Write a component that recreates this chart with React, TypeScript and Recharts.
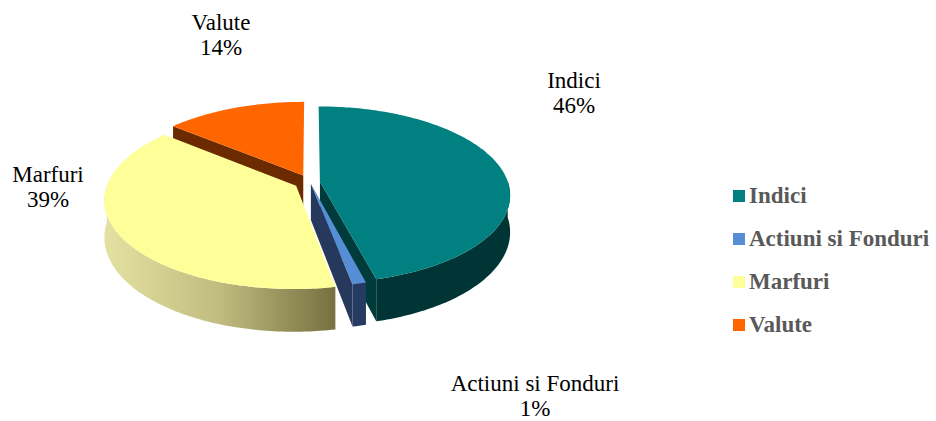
// Exploded 3D pie: portfolio split by asset class
// Recharts lays out the sectors, a custom shape extrudes them into a tilted 3D slice

import React from "react";
import { PieChart, Pie, Legend, Cell } from "recharts";

const categories = ["Indici", "Actiuni si Fonduri", "Marfuri", "Valute"];
const shares = [46, 1, 39, 14];

const topColors = ["#008080", "#558ED5", "#FFFF99", "#FF6600"];
const sideColors = ["#013535", "#253B61", "url(#marfuriSide)", "#6B2A00"];
const wallColors = ["#003B3B", "#26395C", "#8A854F", "#6B2A00"];
const explode = [10, 4, 16, 16];

const SERIF = '"Times New Roman", Times, "Liberation Serif", "DejaVu Serif", serif';

// label anchor (first baseline) relative to pie center
const labelOffset: Array<[number, number]> = [
  [264, -94],
  [225, 209],
  [-262, 0],
  [-89, -152],
];

// start the pie at Valute so the back slices paint first, Marfuri last
const drawOrder = [3, 0, 1, 2];
const total = shares.reduce((a, b) => a + b, 0);
const pieData = drawOrder.map(i => ({ name: categories[i], value: shares[i], idx: i }));
const startAngle = 90 + (360 * shares[3]) / total;

const D = 1250; // perspective distance
const K = 0.46; // tilt (vertical squash)
const DEPTH = 36;
const RAD = Math.PI / 180;

function project(cx: number, cy: number, X: number, Z: number, h: number) {
  const s = D / (D + Z);
  return [cx + X * s, cy - Z * K * s + h * s];
}

function toPath(pts: number[][], close = true) {
  return pts.map((p, i) => `${i ? "L" : "M"}${p[0].toFixed(2)},${p[1].toFixed(2)}`).join(" ") + (close ? " Z" : "");
}

function Slice3D(props: any) {
  const { cx, cy, outerRadius: r, startAngle: a0, endAngle: a1 } = props;
  const idx = props.payload?.idx ?? props.idx;
  const mid = ((a0 + a1) / 2) * RAD;
  const ox = explode[idx] * Math.cos(mid);
  const oz = explode[idx] * Math.sin(mid);

  const pt = (t: number, h: number) => project(cx, cy, ox + r * Math.cos(t * RAD), oz + r * Math.sin(t * RAD), h);
  const apex = (h: number) => project(cx, cy, ox, oz, h);

  // sample angles along the arc, adding the silhouette points (multiples of 180)
  const n = Math.max(2, Math.ceil(Math.abs(a1 - a0)));
  const angles: number[] = [];
  for (let i = 0; i <= n; i++) angles.push(a0 + ((a1 - a0) * i) / n);
  const lo = Math.min(a0, a1);
  const hi = Math.max(a0, a1);
  for (let m = Math.ceil(lo / 180) * 180; m <= hi; m += 180) angles.push(m);
  angles.sort((a, b) => (a1 < a0 ? b - a : a - b));

  const top = [apex(0), ...angles.map(t => pt(t, 0))];

  // outer wall on the front half only
  const runs: number[][] = [];
  let cur: number[] = [];
  angles.forEach(t => {
    if (Math.sin(t * RAD) <= 1e-9) cur.push(t);
    else if (cur.length) {
      runs.push(cur);
      cur = [];
    }
  });
  if (cur.length) runs.push(cur);

  const dir = a1 < a0 ? -1 : 1;
  const walls: number[] = [];
  if (Math.sin((a0 - dir * 90) * RAD) < 0) walls.push(a0);
  if (Math.sin((a1 + dir * 90) * RAD) < 0) walls.push(a1);

  return (
    <g>
      {idx === 2 && (
        <defs>
          <linearGradient id="marfuriSide" x1="0" y1="0" x2="1" y2="0">
            <stop offset="0%" stopColor="#E4E2A2" />
            <stop offset="50%" stopColor="#C0BC80" />
            <stop offset="100%" stopColor="#75703F" />
          </linearGradient>
        </defs>
      )}
      {walls.map(t => (
        <path key={`w${t}`} d={toPath([apex(0), pt(t, 0), pt(t, DEPTH), apex(DEPTH)])} fill={wallColors[idx]} />
      ))}
      {runs.map((run, k) => (
        <path
          key={`s${k}`}
          d={toPath([...run.map(t => pt(t, 0)), ...run.slice().reverse().map(t => pt(t, DEPTH))])}
          fill={sideColors[idx]}
        />
      ))}
      <path d={toPath(top)} fill={topColors[idx]} />
    </g>
  );
}

function renderLabel(p: any) {
  const idx = p.payload?.idx ?? p.idx;
  const [dx, dy] = labelOffset[idx];
  const x = p.cx + dx;
  return (
    <text x={x} y={p.cy + dy} textAnchor="middle" fill="#000" style={{ fontFamily: SERIF, fontSize: 23 }}>
      <tspan x={x}>{categories[idx]}</tspan>
      <tspan x={x} dy={25}>{`${shares[idx]}%`}</tspan>
    </text>
  );
}

function renderLegend(props: any) {
  const items = [...(props.payload || [])].sort(
    (a: any, b: any) => categories.indexOf(a.value) - categories.indexOf(b.value)
  );
  return (
    <div>
      {items.map((item: any) => (
        <div key={item.value} style={{ display: "flex", alignItems: "center", height: 43 }}>
          <span
            style={{ width: 12, height: 12, background: topColors[categories.indexOf(item.value)], marginRight: 4 }}
          />
          <span
            style={{
              fontFamily: SERIF,
              fontWeight: "bold",
              fontSize: 23,
              color: "#595959",
              whiteSpace: "nowrap",
            }}
          >
            {item.value}
          </span>
        </div>
      ))}
    </div>
  );
}

export default function App() {
  return (
    <div style={{ position: "absolute", left: 0, top: 0, background: "#fff" }}>
      <PieChart width={936} height={421} margin={{ top: 0, right: 0, bottom: 0, left: 0 }}>
        <Pie
          data={pieData}
          dataKey="value"
          nameKey="name"
          cx={310}
          cy={182}
          outerRadius={188}
          startAngle={startAngle}
          endAngle={startAngle - 360}
          stroke="none"
          shape={(p: any) => <Slice3D {...p} />}
          activeShape={(p: any) => <Slice3D {...p} />}
          label={renderLabel}
          labelLine={false}
          isAnimationActive={false}
        >
          {pieData.map(d => (
            <Cell key={d.name} fill={topColors[d.idx]} />
          ))}
        </Pie>
        <Legend
          layout="vertical"
          align="right"
          verticalAlign="top"
          wrapperStyle={{ left: 733, top: 174, width: 200 }}
          content={renderLegend}
        />
      </PieChart>
    </div>
  );
}
